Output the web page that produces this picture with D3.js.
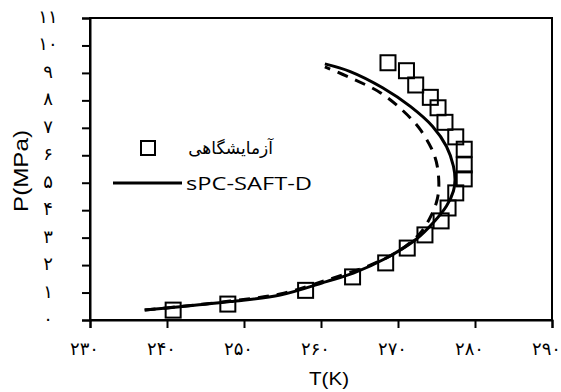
<!DOCTYPE html>
<html>
<head>
<meta charset="utf-8">
<script src="https://cdn.jsdelivr.net/npm/d3@7"></script>
<style>
  body { margin: 0; background: #fff; }
  svg { display: block; }
</style>
</head>
<body>
<script>
// experimental points (T in K, P in MPa)
const expT = [240.8, 247.9, 258.0, 264.1, 268.4, 271.2, 273.5, 275.6, 276.5, 277.5,
              278.6, 278.6, 278.6, 277.5, 276.1, 275.2, 274.2, 272.3, 271.1, 268.7];
const expP = [0.36, 0.58, 1.08, 1.57, 2.08, 2.62, 3.10, 3.61, 4.08, 4.63,
              5.14, 5.65, 6.22, 6.67, 7.20, 7.73, 8.11, 8.56, 9.08, 9.37];

// sPC-SAFT-D model (solid)
const modelT = [237.1, 241.7, 248.2, 254.7, 260.7, 264.2, 268.5, 272.4, 274.6, 276.3,
                277.2, 277.4, 277.2, 276.3, 274.5, 271.6, 268.0, 263.8, 260.5];
const modelP = [0.36, 0.48, 0.67, 0.91, 1.40, 1.71, 2.26, 2.95, 3.55, 4.15,
                4.70, 5.10, 5.60, 6.32, 7.05, 7.78, 8.46, 9.05, 9.33];

// second model (dashed)
const dashT = [237.1, 241.7, 248.2, 254.7, 260.7, 266.4, 270.3, 272.9, 274.3, 275.1,
               275.3, 274.8, 272.9, 270.5, 267.7, 264.4, 260.5];
const dashP = [0.36, 0.49, 0.69, 0.95, 1.45, 2.00, 2.55, 3.17, 3.80, 4.40,
               5.04, 5.94, 6.93, 7.66, 8.28, 8.75, 9.22];

const xTicks = [230, 240, 250, 260, 270, 280, 290];
const xTickLabels = ['۲۳۰', '۲۴۰', '۲۵۰', '۲۶۰', '۲۷۰', '۲۸۰', '۲۹۰'];
const yTicks = [0, 1, 2, 3, 4, 5, 6, 7, 8, 9, 10, 11];
const yTickLabels = ['۰', '۱', '۲', '۳', '۴', '۵', '۶', '۷', '۸', '۹', '۱۰', '۱۱'];

const legendLabels = ['آزمایشگاهی', 'sPC-SAFT-D'];

const W = 561, H = 392;
const margin = { top: 18, right: 9, bottom: 72, left: 90 };
const width = W - margin.left - margin.right;
const height = H - margin.top - margin.bottom;

const svg = d3.select("body").append("svg")
  .attr("width", W)
  .attr("height", H);

const g = svg.append("g")
  .attr("transform", "translate(" + margin.left + "," + margin.top + ")");

const x = d3.scaleLinear().domain([230, 290]).range([0, width]);
const y = d3.scaleLinear().domain([0, 11]).range([height, 0]);

const tickFont = "'DejaVu Sans', sans-serif";

// frame
g.append("rect")
  .attr("width", width)
  .attr("height", height)
  .attr("fill", "none")
  .attr("stroke", "#000")
  .attr("stroke-width", 2);

// axes
const xAxis = d3.axisBottom(x)
  .tickValues(xTicks)
  .tickSize(8)
  .tickPadding(14)
  .tickFormat((d, i) => xTickLabels[i]);
const yAxis = d3.axisLeft(y)
  .tickValues(yTicks)
  .tickSize(8)
  .tickPadding(34)
  .tickFormat((d, i) => yTickLabels[i]);

const gx = g.append("g")
  .attr("transform", "translate(0," + height + ")")
  .call(xAxis);
const gy = g.append("g").call(yAxis);

[gx, gy].forEach(a => {
  a.select(".domain").attr("stroke-width", 2);
  a.selectAll(".tick line").attr("stroke-width", 2);
  a.selectAll("text")
    .attr("font-family", tickFont)
    .attr("font-size", 18)
    .attr("fill", "#000");
});
gx.selectAll("text").attr("dx", "-6");
gy.selectAll("text").attr("text-anchor", "middle").attr("dy", "0.25em");

// axis titles
svg.append("text")
  .attr("x", 329)
  .attr("y", 385)
  .attr("text-anchor", "middle")
  .attr("font-family", "'Liberation Sans', sans-serif")
  .attr("font-size", 18)
  .attr("textLength", 40)
  .attr("lengthAdjust", "spacingAndGlyphs")
  .text("T(K)");

svg.append("text")
  .attr("transform", "translate(28,171) rotate(-90)")
  .attr("text-anchor", "middle")
  .attr("font-family", "'Liberation Sans', sans-serif")
  .attr("font-size", 20)
  .attr("textLength", 82)
  .attr("lengthAdjust", "spacingAndGlyphs")
  .text("P(MPa)");

// curves
const line = d3.line()
  .x(d => x(d[0]))
  .y(d => y(d[1]))
  .curve(d3.curveCatmullRom.alpha(0.5));

g.append("path")
  .datum(dashT.map((t, i) => [t, dashP[i]]))
  .attr("d", line)
  .attr("fill", "none")
  .attr("stroke", "#000")
  .attr("stroke-width", 3)
  .attr("stroke-dasharray", "11,8");

g.append("path")
  .datum(modelT.map((t, i) => [t, modelP[i]]))
  .attr("d", line)
  .attr("fill", "none")
  .attr("stroke", "#000")
  .attr("stroke-width", 3);

// experimental squares
const sq = 15;
g.selectAll("rect.pt")
  .data(expT.map((t, i) => [t, expP[i]]))
  .enter()
  .append("rect")
  .attr("class", "pt")
  .attr("x", d => x(d[0]) - sq / 2)
  .attr("y", d => y(d[1]) - sq / 2)
  .attr("width", sq)
  .attr("height", sq)
  .attr("fill", "none")
  .attr("stroke", "#000")
  .attr("stroke-width", 2);

// legend
const leg = svg.append("g");
leg.append("rect")
  .attr("x", 141).attr("y", 141)
  .attr("width", 14).attr("height", 14)
  .attr("fill", "none")
  .attr("stroke", "#000")
  .attr("stroke-width", 2);
leg.append("text")
  .attr("x", 273).attr("y", 154)
  .attr("text-anchor", "end")
  .attr("font-family", "'DejaVu Sans', sans-serif")
  .attr("font-size", 17)
  .text(legendLabels[0]);
leg.append("line")
  .attr("x1", 113).attr("x2", 182)
  .attr("y1", 183).attr("y2", 183)
  .attr("stroke", "#000")
  .attr("stroke-width", 3);
leg.append("text")
  .attr("x", 186).attr("y", 190)
  .attr("font-family", "'Open Sans', sans-serif")
  .attr("font-size", 18)
  .attr("textLength", 126)
  .attr("lengthAdjust", "spacingAndGlyphs")
  .text(legendLabels[1]);
</script>
</body>
</html>
